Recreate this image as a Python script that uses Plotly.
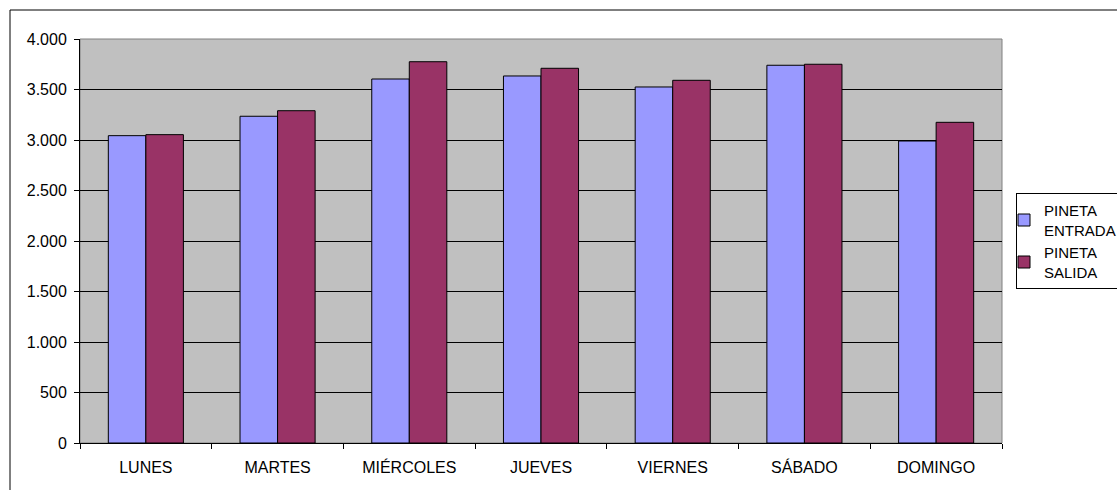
import plotly.graph_objects as go

dias = ["LUNES", "MARTES", "MIÉRCOLES", "JUEVES", "VIERNES", "SÁBADO", "DOMINGO"]
entrada = [3043, 3235, 3604, 3634, 3525, 3740, 2990]
salida = [3053, 3290, 3775, 3710, 3591, 3750, 3175]
ytick_vals = [0, 500, 1000, 1500, 2000, 2500, 3000, 3500, 4000]
ytick_text = ["0", "500", "1.000", "1.500", "2.000", "2.500", "3.000", "3.500", "4.000"]

FONT = "Liberation Sans, Arial, sans-serif"

fig = go.Figure()
fig.add_trace(go.Bar(x=dias, y=entrada, name="PINETA<br>ENTRADA",
                     marker=dict(color="#9999FF", line=dict(color="black", width=1))))
fig.add_trace(go.Bar(x=dias, y=salida, name="PINETA<br>SALIDA",
                     marker=dict(color="#993366", line=dict(color="black", width=1))))

W, H = 1117, 490
L, R, T, B = 80, 115, 39, 47
pw = W - L - R
ph = H - T - B

fig.update_layout(
    width=W, height=H,
    margin=dict(l=L, r=R, t=T, b=B, pad=0, autoexpand=False),
    paper_bgcolor="white",
    plot_bgcolor="#C0C0C0",
    barmode="group",
    bargap=0.43,
    bargroupgap=0,
    font=dict(family=FONT, size=16, color="black"),
    showlegend=True,
    legend=dict(
        x=(1016 - L) / pw, xanchor="left",
        y=(H - B - 289) / ph, yanchor="bottom",
        bgcolor="white", bordercolor="black", borderwidth=1,
        font=dict(family=FONT, size=15, color="black"),
        itemwidth=30, tracegroupgap=4, indentation=-13,
    ),
    xaxis=dict(
        type="category",
        showline=True, linecolor="black", linewidth=1,
        ticks="outside", tickson="boundaries", ticklen=5, tickcolor="black",
        showgrid=False,
        tickfont=dict(family=FONT, size=16),
        ticklabelstandoff=10,
    ),
    yaxis=dict(
        range=[0, 4000],
        tickvals=ytick_vals, ticktext=ytick_text,
        showline=True, linecolor="black", linewidth=1,
        ticks="outside", ticklen=5, tickcolor="black",
        showgrid=True, gridcolor="black", gridwidth=1,
        zeroline=False,
        tickfont=dict(family=FONT, size=16),
        ticklabelstandoff=4,
    ),
    shapes=[
        dict(type="rect", xref="paper", yref="paper",
             x0=0, x1=1, y0=0, y1=1,
             line=dict(color="#808080", width=1), layer="below"),
        dict(type="rect", xref="paper", yref="paper",
             x0=(10 - L) / pw, x1=(W + 20 - L) / pw,
             y0=(H - B - (H + 20)) / ph, y1=(H - B - 10) / ph,
             line=dict(color="black", width=1), fillcolor="rgba(0,0,0,0)"),
    ],
)

fig.write_html("out.html", config={"displayModeBar": False},
               post_script="document.body.style.margin='0';document.body.style.overflow='hidden';")
